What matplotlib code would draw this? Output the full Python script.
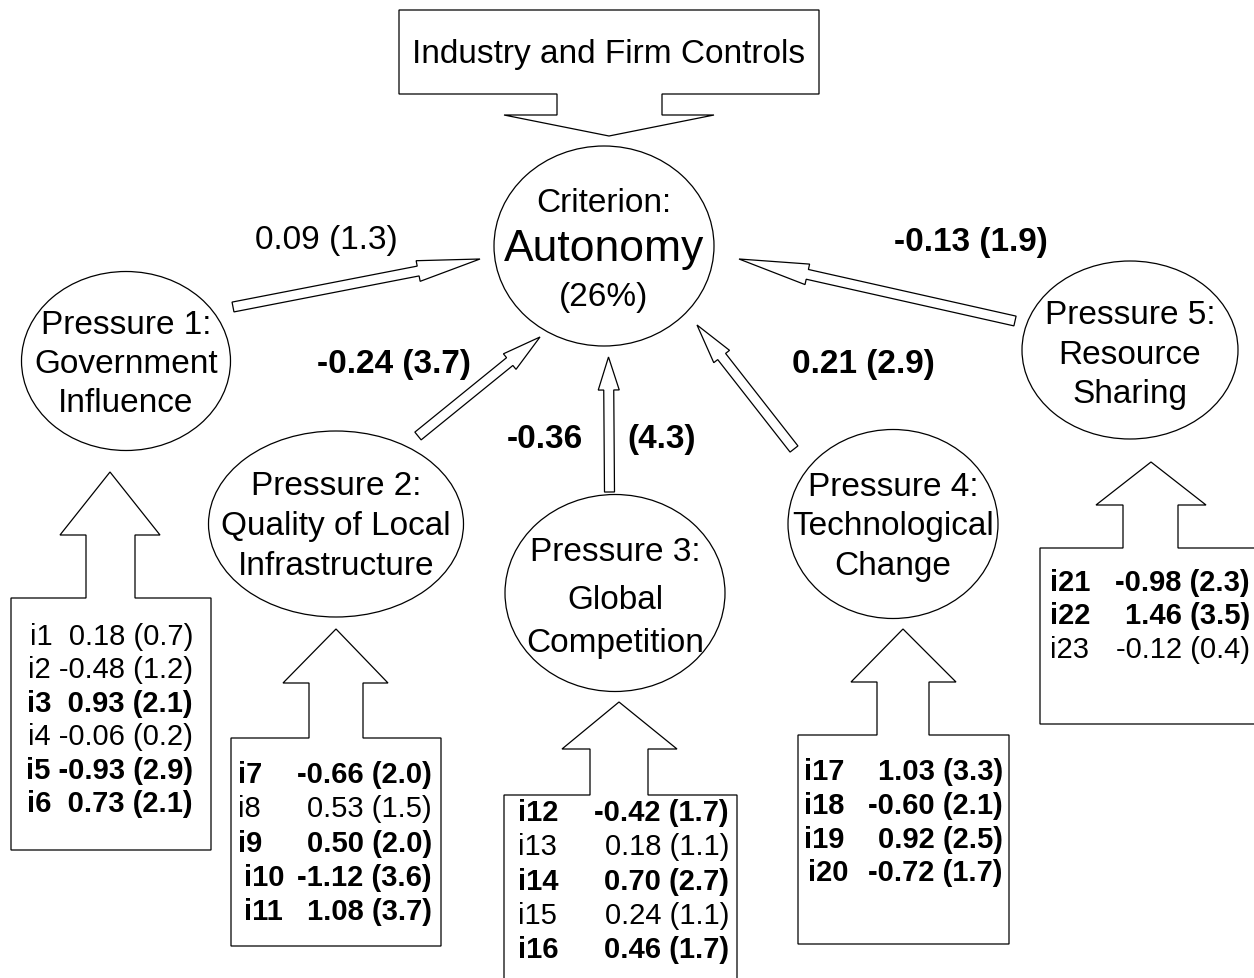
import numpy as np
import matplotlib
matplotlib.use("Agg")
import matplotlib.pyplot as plt
from matplotlib.patches import Ellipse, Polygon

plt.rcParams['font.family'] = ['Liberation Sans', 'DejaVu Sans']

# --- data ---
pressure_names = ["Pressure 1:\nGovernment\nInfluence",
                  "Pressure 2:\nQuality of Local\nInfrastructure",
                  "Pressure 3:\nGlobal\nCompetition",
                  "Pressure 4:\nTechnological\nChange",
                  "Pressure 5:\nResource\nSharing"]
path_coef = [0.09, -0.24, -0.36, 0.21, -0.13]
path_t = [1.3, 3.7, 4.3, 2.9, 1.9]
r_squared = 26
criterion = "Autonomy"
controls = "Industry and Firm Controls"

item_labels = [["i1", "i2", "i3", "i4", "i5", "i6"],
               ["i7", "i8", "i9", "i10", "i11"],
               ["i12", "i13", "i14", "i15", "i16"],
               ["i17", "i18", "i19", "i20"],
               ["i21", "i22", "i23"]]
item_load = [[0.18, -0.48, 0.93, -0.06, -0.93, 0.73],
             [-0.66, 0.53, 0.50, -1.12, 1.08],
             [-0.42, 0.18, 0.70, 0.24, 0.46],
             [1.03, -0.60, 0.92, -0.72],
             [-0.98, 1.46, -0.12]]
item_t = [[0.7, 1.2, 2.1, 0.2, 2.9, 2.1],
          [2.0, 1.5, 2.0, 3.6, 3.7],
          [1.7, 1.1, 2.7, 1.1, 1.7],
          [3.3, 2.1, 2.5, 1.7],
          [2.3, 3.5, 0.4]]
T_CRIT = 1.645

# --- layout (pixel coordinates, y downward) ---
ell = [(126, 362, 209, 179), (336, 525, 255, 186), (615, 594, 220, 197),
       (893, 525, 210, 189), (1130, 351, 216, 178)]
ell_text_y = [[326, 365, 404], [487, 527, 567], [553, 601, 644],
              [488, 527, 567], [316, 356, 395]]
crit = (604, 247, 220, 200)

# hollow arrows: tail, tip, head length, head half width
arrows = [((233, 308), (480, 260), 63, 10.5),
          ((418, 437), (540, 338), 39, 10),
          ((609.5, 493), (608.5, 358), 33, 10.5),
          ((794, 450), (697, 326), 40, 10),
          ((1015, 322), (739, 260), 70, 10.5)]
coef_pos = [(326, 240), (394, 365), None, (863, 365), (971, 243)]

# block arrow + item box: box x0,x1,y0,y1, shaft x0,x1, wing y, wing x0,x1, tip x,y
boxes = [(11, 211, 599, 851, 86, 135, 536, 60, 160, 110, 473),
         (231, 441, 739, 947, 309, 363, 684, 283, 388, 336, 630),
         (504, 737, 796, 995, 590, 648, 750, 562, 677, 619, 703),
         (798, 1009, 736, 945, 877, 929, 683, 851, 956, 903, 630),
         (1040, 1270, 549, 725, 1123, 1178, 506, 1096, 1206, 1151, 463)]
row_y0 = [637, 775, 813, 772, 583]
row_dy = [33.5, 34.3, 34.3, 33.8, 33.5]
label_x = [27, 238, 518, 804, 1050]
value_x = [193, 432, 729, 1003, 1250]

fig = plt.figure(figsize=(12.54, 9.79), dpi=100)
ax = fig.add_axes([0, 0, 1, 1])
ax.set_xlim(0, 1254)
ax.set_ylim(979, 0)
ax.axis('off')

LW = 0.9


def hollow_arrow(tail, tip, L, hw, sw=5.0):
    p0 = np.array(tail, float)
    p1 = np.array(tip, float)
    u = (p1 - p0) / np.linalg.norm(p1 - p0)
    n = np.array([-u[1], u[0]])
    b = p1 - u * L
    pts = [p0 + n * sw, b + n * sw, b + n * hw, p1, b - n * hw, b - n * sw, p0 - n * sw]
    ax.add_patch(Polygon(pts, closed=True, fc='white', ec='black', lw=LW))


# top controls box with downward arrow
top = [(399, 11), (819, 11), (819, 95), (662, 95), (662, 116), (714, 116), (609, 137),
       (504, 116), (557, 116), (557, 95), (399, 95)]
ax.add_patch(Polygon(top, closed=True, fc='white', ec='black', lw=LW))
ax.text(609, 55, controls, fontsize=24, ha='center', va='center')

# criterion
cx, cy, cw, ch = crit
ax.add_patch(Ellipse((cx, cy), cw, ch, fc='white', ec='black', lw=LW))
ax.text(cx, 204, "Criterion:", fontsize=24, ha='center', va='center')
ax.text(cx, 250, criterion, fontsize=32, ha='center', va='center')
ax.text(cx, 298, "(%d%%)" % r_squared, fontsize=24, ha='center', va='center')

# pressures
for k, (ex, ey, ew, eh) in enumerate(ell):
    ax.add_patch(Ellipse((ex, ey), ew, eh, fc='white', ec='black', lw=LW))
    for line, ty in zip(pressure_names[k].split("\n"), ell_text_y[k]):
        ax.text(ex, ty, line, fontsize=24, ha='center', va='center')

# paths to criterion
for k, (tail, tip, L, hw) in enumerate(arrows):
    hollow_arrow(tail, tip, L, hw)
    w = 'bold' if path_t[k] > T_CRIT else 'normal'
    if coef_pos[k] is None:
        ax.text(545, 440, "%.2f" % path_coef[k], fontsize=24, weight=w, ha='center', va='center')
        ax.text(662, 440, "(%.1f)" % path_t[k], fontsize=24, weight=w, ha='center', va='center')
    else:
        ax.text(coef_pos[k][0], coef_pos[k][1], "%.2f (%.1f)" % (path_coef[k], path_t[k]),
                fontsize=24, weight=w, ha='center', va='center')

# item boxes
for k, b in enumerate(boxes):
    x0, x1, y0, y1, s0, s1, wy, w0, w1, tx, ty = b
    pts = [(x0, y0), (s0, y0), (s0, wy), (w0, wy), (tx, ty), (w1, wy), (s1, wy),
           (s1, y0), (x1, y0), (x1, y1), (x0, y1)]
    ax.add_patch(Polygon(pts, closed=True, fc='white', ec='black', lw=LW))
    for j, lab in enumerate(item_labels[k]):
        y = row_y0[k] + j * row_dy[k]
        w = 'bold' if item_t[k][j] > T_CRIT else 'normal'
        val = "%.2f (%.1f)" % (item_load[k][j], item_t[k][j])
        if k == 0:
            # first box: one string per row
            sep = "  " if item_load[k][j] >= 0 else " "
            ax.text(value_x[k], y, lab + sep + val, fontsize=21, weight=w,
                    ha='right', va='center')
            continue
        lx = label_x[k]
        if k == 1 and j >= 3:
            lx += 6
        if k == 3 and j == 3:
            lx += 4
        ax.text(lx, y, lab, fontsize=21, weight=w, ha='left', va='center')
        ax.text(value_x[k], y, val, fontsize=21, weight=w, ha='right', va='center')

fig.savefig("out.png", dpi=100, facecolor='white')
